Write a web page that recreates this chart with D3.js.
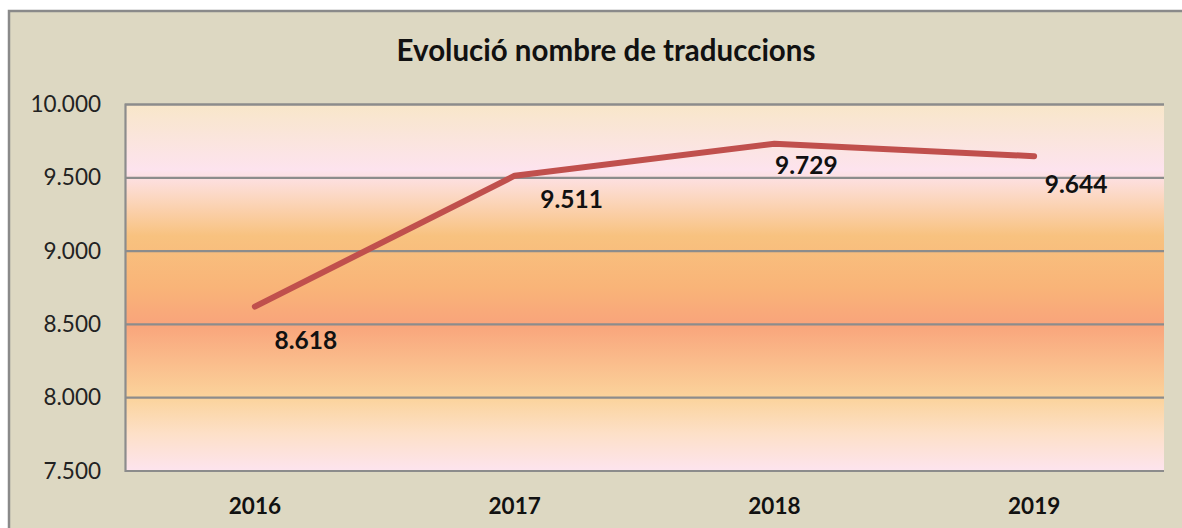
<!DOCTYPE html>
<html><head><meta charset="utf-8">
<script src="https://cdn.jsdelivr.net/npm/d3@7"></script>
<style>html,body{margin:0;padding:0;background:#fff;overflow:hidden}</style>
</head><body>
<svg id="chart" width="1182" height="528"></svg>
<script>
const title = "Evolució nombre de traduccions";
const categories = ["2016", "2017", "2018", "2019"];
const values = [8618, 9511, 9729, 9644];
const valueLabels = ["8.618", "9.511", "9.729", "9.644"];
const yTicks = [7500, 8000, 8500, 9000, 9500, 10000];
const yTickLabels = ["7.500", "8.000", "8.500", "9.000", "9.500", "10.000"];

const svg = d3.select("#chart");
const W = 1182, H = 528;
const plot = {left: 125, top: 104, right: 1164, bottom: 470.5};
const font = "Lato, 'Open Sans', sans-serif";

// outer chart area
svg.append("rect").attr("x", 9).attr("y", 11).attr("width", W + 20).attr("height", H + 20)
  .attr("fill", "#ddd8c2").attr("stroke", "#8a8a8a").attr("stroke-width", 2.5);

// gradient
const defs = svg.append("defs");
const grad = defs.append("linearGradient").attr("id", "bg").attr("x1", 0).attr("y1", 0).attr("x2", 0).attr("y2", 1);
[[0, "#f8e7c9"], [0.18, "#fde3ee"], [0.25, "#fcd8c4"], [0.36, "#f8c27f"], [0.5, "#f9b478"], [0.6, "#f9a47b"],
 [0.8, "#fbd39b"], [0.9, "#fde0c8"], [1, "#fde4ee"]]
  .forEach(([o, c]) => grad.append("stop").attr("offset", o).attr("stop-color", c));

const x = d3.scaleBand().domain(categories).range([plot.left, plot.right]);
const y = d3.scaleLinear().domain([7500, 10000]).range([plot.bottom, plot.top]);

svg.append("rect").attr("x", plot.left).attr("y", plot.top)
  .attr("width", plot.right - plot.left).attr("height", plot.bottom - plot.top)
  .attr("fill", "url(#bg)");

// gridlines
const gridAxis = d3.axisLeft(y).tickValues(yTicks).tickSize(-(plot.right - plot.left)).tickFormat("");
const g = svg.append("g").attr("transform", `translate(${plot.left},0)`).call(gridAxis);
g.selectAll(".tick line").attr("stroke", "#8c8c8c").attr("stroke-width", 2.2);
g.select(".domain").attr("stroke", "#8c8c8c").attr("stroke-width", 2.2);

// y tick labels
svg.append("g").selectAll("text").data(yTicks).join("text")
  .attr("x", plot.left - 24).attr("y", d => y(d)).attr("dy", "0.36em")
  .attr("text-anchor", "end").attr("font-family", font).attr("font-size", 22.5)
  .attr("fill", "#222").text((d, i) => yTickLabels[i]);

// x labels
const xAxis = d3.axisBottom(x).tickSize(0).tickPadding(0);
const xg = svg.append("g").attr("transform", `translate(0,${plot.bottom})`).call(xAxis);
xg.select(".domain").remove();
xg.selectAll("text").attr("y", 35).attr("dy", "0.36em").attr("font-family", font)
  .attr("font-size", 22.5).attr("font-weight", "bold").attr("fill", "#111");

// line
const line = d3.line().x((d, i) => x(categories[i]) + x.bandwidth() / 2).y(d => y(d));
svg.append("path").datum(values).attr("d", line).attr("fill", "none")
  .attr("stroke", "#c0504d").attr("stroke-width", 6).attr("stroke-linecap", "round").attr("stroke-linejoin", "round");

// data labels (layout nudges relative to each point)
const nudge = [[51, 34], [57, 23], [32, 21], [42, 28]];
svg.append("g").selectAll("text").data(values).join("text")
  .attr("x", (d, i) => x(categories[i]) + x.bandwidth() / 2 + nudge[i][0])
  .attr("y", (d, i) => y(d) + nudge[i][1]).attr("dy", "0.36em")
  .attr("text-anchor", "middle").attr("font-family", font).attr("font-size", 24.5)
  .attr("font-weight", "bold").attr("fill", "#111").text((d, i) => valueLabels[i]);

// title
svg.append("text").attr("x", 606).attr("y", 50).attr("dy", "0.36em").attr("text-anchor", "middle")
  .attr("font-family", font).attr("font-size", 29.5).attr("font-weight", "bold").attr("fill", "#111").text(title);
</script>
</body></html>
